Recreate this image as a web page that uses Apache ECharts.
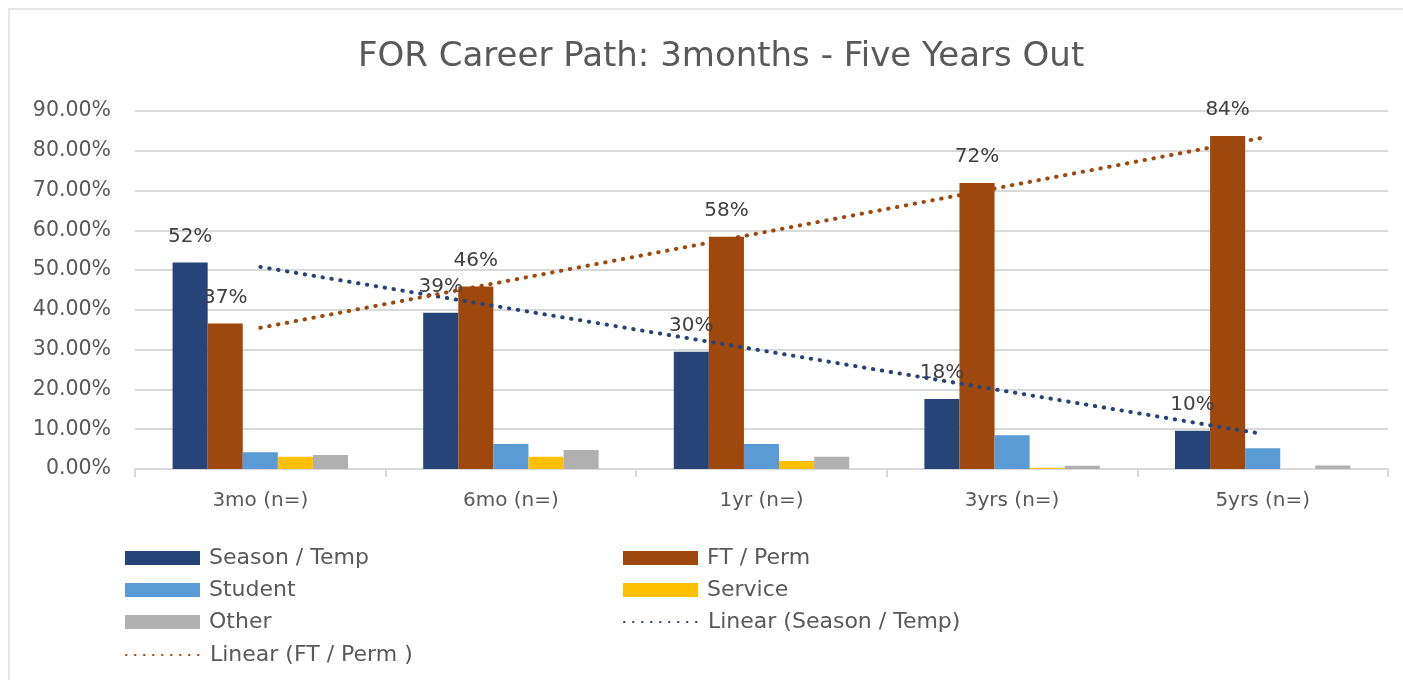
<!DOCTYPE html>
<html>
<head>
<meta charset="utf-8">
<script src="https://cdn.jsdelivr.net/npm/echarts@6/dist/echarts.min.js"></script>
<style>
html,body{margin:0;padding:0;background:#fff;overflow:hidden;width:1403px;height:680px;}
#frame{position:absolute;left:8px;top:8px;width:1500px;height:800px;border:2px solid #e6e6e6;box-sizing:border-box;}
#chart{position:absolute;left:0;top:0;width:1403px;height:680px;}
</style>
</head>
<body>
<div id="frame"></div>
<div id="chart"></div>
<script>
const categories = ['3mo (n=)', '6mo (n=)', '1yr (n=)', '3yrs (n=)', '5yrs (n=)'];
const seasonTemp = [51.9, 39.3, 29.5, 17.6, 9.6];
const ftPerm = [36.6, 45.9, 58.4, 71.9, 83.7];
const student = [4.2, 6.3, 6.3, 8.5, 5.2];
const service = [3.1, 3.1, 2.0, 0.3, 0];
const other = [3.5, 4.8, 3.1, 0.8, 0.9];
// trendline endpoints (first and last category)
const seasonTrend = [50.8, null, null, null, 8.8];
const ftTrend = [35.5, null, null, null, 83.3];
const yTicks = [0, 10, 20, 30, 40, 50, 60, 70, 80, 90];

const FONT = 'DejaVu Sans';
const chart = echarts.init(document.getElementById('chart'));
const labelCfg = {
  show: true, position: 'top', distance: 16,
  fontFamily: FONT, fontSize: 20, color: '#404040',
  formatter: p => Math.round(p.value) + '%'
};
const barBase = { type: 'bar', barGap: '0%', barCategoryGap: '30%' };

function legendItem(name, left, centerY, isLine) {
  const item = isLine ? { name: name, itemStyle: { opacity: 0 } } : { name: name, icon: 'rect' };
  return {
    orient: 'horizontal', left: left, top: centerY - 11, padding: 0,
    itemWidth: 75, itemHeight: 14,
    textStyle: { fontFamily: FONT, fontSize: 22, color: '#595959', padding: [0, 0, 0, 4] },
    data: [item]
  };
}

chart.setOption({
  animation: false,
  textStyle: { fontFamily: FONT },
  title: {
    text: 'FOR Career Path: 3months - Five Years Out',
    left: 353, top: 35,
    textStyle: { fontFamily: FONT, fontSize: 34, fontWeight: 'normal', color: '#595959' }
  },
  grid: { left: 135, right: 15, top: 111, bottom: 211 },
  xAxis: {
    type: 'category', data: categories,
    axisLine: { lineStyle: { color: '#d9d9d9', width: 2 } },
    axisTick: { show: true, length: 8, lineStyle: { color: '#d9d9d9', width: 2 } },
    axisLabel: { fontFamily: FONT, fontSize: 20, color: '#595959', margin: 22 }
  },
  yAxis: {
    type: 'value', min: yTicks[0], max: yTicks[yTicks.length - 1], interval: 10,
    axisLine: { show: false }, axisTick: { show: false },
    splitLine: { lineStyle: { color: '#d9d9d9', width: 2 } },
    axisLabel: { fontFamily: FONT, fontSize: 20.5, color: '#595959', margin: 24,
      formatter: v => v.toFixed(2) + '%' }
  },
  legend: [
    legendItem('Season / Temp', 125, 558, false),
    legendItem('Student', 125, 590, false),
    legendItem('Other', 125, 622, false),
    legendItem('Linear (FT / Perm )', 125, 655, true),
    legendItem('FT / Perm', 623, 558, false),
    legendItem('Service', 623, 590, false),
    legendItem('Linear (Season / Temp)', 623, 622, true)
  ],
  series: [
    Object.assign({}, barBase, { name: 'Season / Temp', data: seasonTemp, itemStyle: { color: '#264478' }, label: labelCfg }),
    Object.assign({}, barBase, { name: 'FT / Perm', data: ftPerm, itemStyle: { color: '#9E480E' }, label: labelCfg }),
    Object.assign({}, barBase, { name: 'Student', data: student, itemStyle: { color: '#5B9BD5' } }),
    Object.assign({}, barBase, { name: 'Service', data: service, itemStyle: { color: '#FFC000' } }),
    Object.assign({}, barBase, { name: 'Other', data: other, itemStyle: { color: '#B0B0B0' } }),
    { type: 'line', name: 'Linear (Season / Temp)', data: seasonTrend, connectNulls: true,
      symbol: 'none', z: 5, itemStyle: { color: '#264478' },
      lineStyle: { color: '#264478', width: 4, type: [0.5, 8.5], cap: 'round' } },
    { type: 'line', name: 'Linear (FT / Perm )', data: ftTrend, connectNulls: true,
      symbol: 'none', z: 5, itemStyle: { color: '#9E480E' },
      lineStyle: { color: '#9E480E', width: 4, type: [0.5, 8.5], cap: 'round' } }
  ]
});
</script>
</body>
</html>
